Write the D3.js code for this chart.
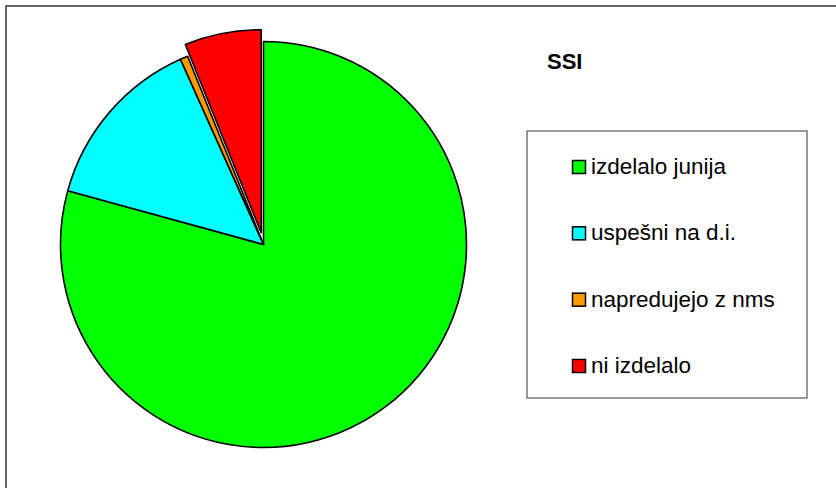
<!DOCTYPE html>
<html>
<head>
<meta charset="utf-8">
<script src="https://cdn.jsdelivr.net/npm/d3@7"></script>
<style>
  body { margin: 0; background: #fff; }
  svg { display: block; font-family: "Liberation Sans", Arial, sans-serif; }
</style>
</head>
<body>
<svg id="chart"></svg>
<script>
// chart data
var categories = ["izdelalo junija", "uspešni na d.i.", "napredujejo z nms", "ni izdelalo"];
var values = [130, 23, 1, 10];
var colors = ["#00ff00", "#00ffff", "#ff9900", "#ff0000"];
var title = "SSI";

var width = 836, height = 488;
var svg = d3.select("#chart")
    .attr("width", width)
    .attr("height", height);

// outer frame (right and bottom fall outside the picture)
svg.append("rect")
    .attr("x", 6).attr("y", 6)
    .attr("width", 900).attr("height", 600)
    .attr("fill", "none")
    .attr("stroke", "#333")
    .attr("stroke-width", 1.5);

var cx = 263.5, cy = 244.5, radius = 203;

var pie = d3.pie().sort(null).value(function(d) { return d; });
var arc = d3.arc().innerRadius(0).outerRadius(radius);
var arcs = pie(values);

var g = svg.append("g").attr("transform", "translate(" + cx + "," + cy + ")");

g.selectAll("path")
    .data(arcs)
    .enter()
    .append("path")
    .attr("d", arc)
    .attr("transform", function(d, i) {
        // last slice is pulled out
        if (i != values.length - 1) return null;
        var a = (d.startAngle + d.endAngle) / 2;
        var off = 12;
        return "translate(" + (Math.sin(a) * off) + "," + (-Math.cos(a) * off) + ")";
    })
    .attr("fill", function(d, i) { return colors[i]; })
    .attr("stroke", "#000")
    .attr("stroke-width", 1.6)
    .attr("stroke-linejoin", "round");

// title
svg.append("text")
    .attr("x", 547)
    .attr("y", 69)
    .attr("font-size", 22)
    .attr("font-weight", "bold")
    .text(title);

// legend
var legend = svg.append("g");
legend.append("rect")
    .attr("x", 527).attr("y", 131)
    .attr("width", 280).attr("height", 267)
    .attr("fill", "#fff")
    .attr("stroke", "#555")
    .attr("stroke-width", 1.2);

var rowY = d3.scalePoint().domain(categories).range([174, 373]);

var items = legend.selectAll(".item")
    .data(categories)
    .enter()
    .append("g")
    .attr("class", "item")
    .attr("transform", function(d) { return "translate(0," + rowY(d) + ")"; });

items.append("rect")
    .attr("x", 572.5).attr("y", -13.5)
    .attr("width", 13).attr("height", 13)
    .attr("fill", function(d, i) { return colors[i]; })
    .attr("stroke", "#000")
    .attr("stroke-width", 1.5);

items.append("text")
    .attr("x", 591)
    .attr("y", 0)
    .attr("font-size", 22.5)
    .text(function(d) { return d; });
</script>
</body>
</html>
